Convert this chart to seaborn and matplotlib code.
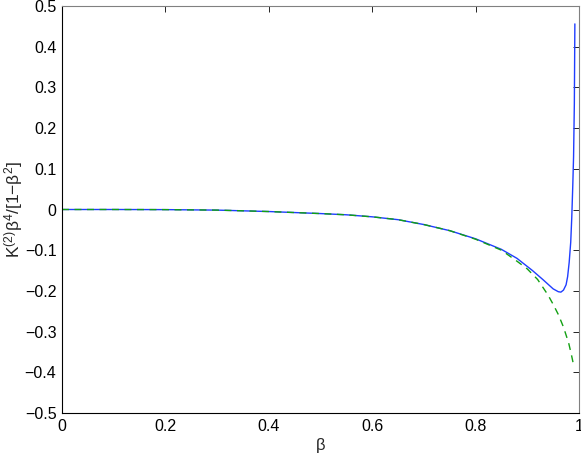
import matplotlib
matplotlib.use('Agg')
import matplotlib.pyplot as plt
import seaborn as sns
import pandas as pd

# blue solid curve
beta_full = [0.0, 0.1, 0.2, 0.3, 0.4, 0.5, 0.55, 0.6, 0.65, 0.7, 0.75, 0.8, 0.85,
             0.88, 0.91, 0.93, 0.95, 0.96, 0.965, 0.97, 0.975, 0.978, 0.981,
             0.984, 0.986, 0.988, 0.9895, 0.991, 0.992]
k_full = [0.0, 0.0, -0.0003, -0.0015, -0.005, -0.010, -0.013, -0.018, -0.025,
          -0.037, -0.052, -0.072, -0.098, -0.120, -0.150, -0.172, -0.195,
          -0.202, -0.203, -0.198, -0.185, -0.165, -0.130, -0.080, -0.020,
          0.060, 0.130, 0.260, 0.456]

# green dashed curve
beta_approx = [0.0, 0.1, 0.2, 0.3, 0.4, 0.5, 0.55, 0.6, 0.65, 0.7, 0.75, 0.8,
               0.85, 0.88, 0.9, 0.92, 0.94, 0.95, 0.96, 0.97, 0.98, 0.985, 0.99]
k_approx = [0.0, 0.0, -0.0003, -0.0015, -0.005, -0.010, -0.013, -0.018, -0.025,
            -0.037, -0.052, -0.073, -0.100, -0.127, -0.146, -0.172, -0.210,
            -0.233, -0.258, -0.289, -0.328, -0.355, -0.385]

xticks = [0, 0.2, 0.4, 0.6, 0.8, 1]
xticklabels = ['0', '0.2', '0.4', '0.6', '0.8', '1']
yticks = [-0.5, -0.4, -0.3, -0.2, -0.1, 0, 0.1, 0.2, 0.3, 0.4, 0.5]
yticklabels = ['\u22120.5', '\u22120.4', '\u22120.3', '\u22120.2', '\u22120.1',
               '0', '0.1', '0.2', '0.3', '0.4', '0.5']

sns.set_style('white')
plt.rcParams['font.family'] = ['Liberation Sans', 'DejaVu Sans']
plt.rcParams['mathtext.default'] = 'regular'

df_full = pd.DataFrame({'beta': beta_full, 'k': k_full})
df_approx = pd.DataFrame({'beta': beta_approx, 'k': k_approx})

fig = plt.figure(figsize=(5.81, 4.55), dpi=100)
ax = fig.add_axes([62 / 581, 1 - 413 / 455, (579 - 62) / 581, (413 - 6) / 455])

sns.lineplot(data=df_full, x='beta', y='k', color='#1f3dff', linewidth=1.0,
             sort=False, estimator=None, ax=ax)
sns.lineplot(data=df_approx, x='beta', y='k', color='#12a012', linewidth=1.0,
             sort=False, estimator=None, ax=ax, linestyle=(0, (5, 4)))

ax.set_xlim(0, 1)
ax.set_ylim(-0.5, 0.5)
ax.set_xticks(xticks)
ax.set_xticklabels(xticklabels)
ax.set_yticks(yticks)
ax.set_yticklabels(yticklabels)
ax.tick_params(direction='in', length=4, width=0.6, top=True, right=True,
               labelsize=11.5, colors='black', pad=4)
for side in ['left', 'bottom']:
    ax.spines[side].set_color('black')
    ax.spines[side].set_linewidth(0.8)
for side in ['top', 'right']:
    ax.spines[side].set_visible(True)
    ax.spines[side].set_color('#808080')
    ax.spines[side].set_linewidth(0.8)

ax.set_xlabel('\u03b2', fontsize=12, labelpad=3)
ax.set_ylabel('K$^{(2)}$\u03b2$^4$/[1\u2212\u03b2$^2$]', fontsize=12.5, labelpad=0)

fig.savefig('out.png', dpi=100)
